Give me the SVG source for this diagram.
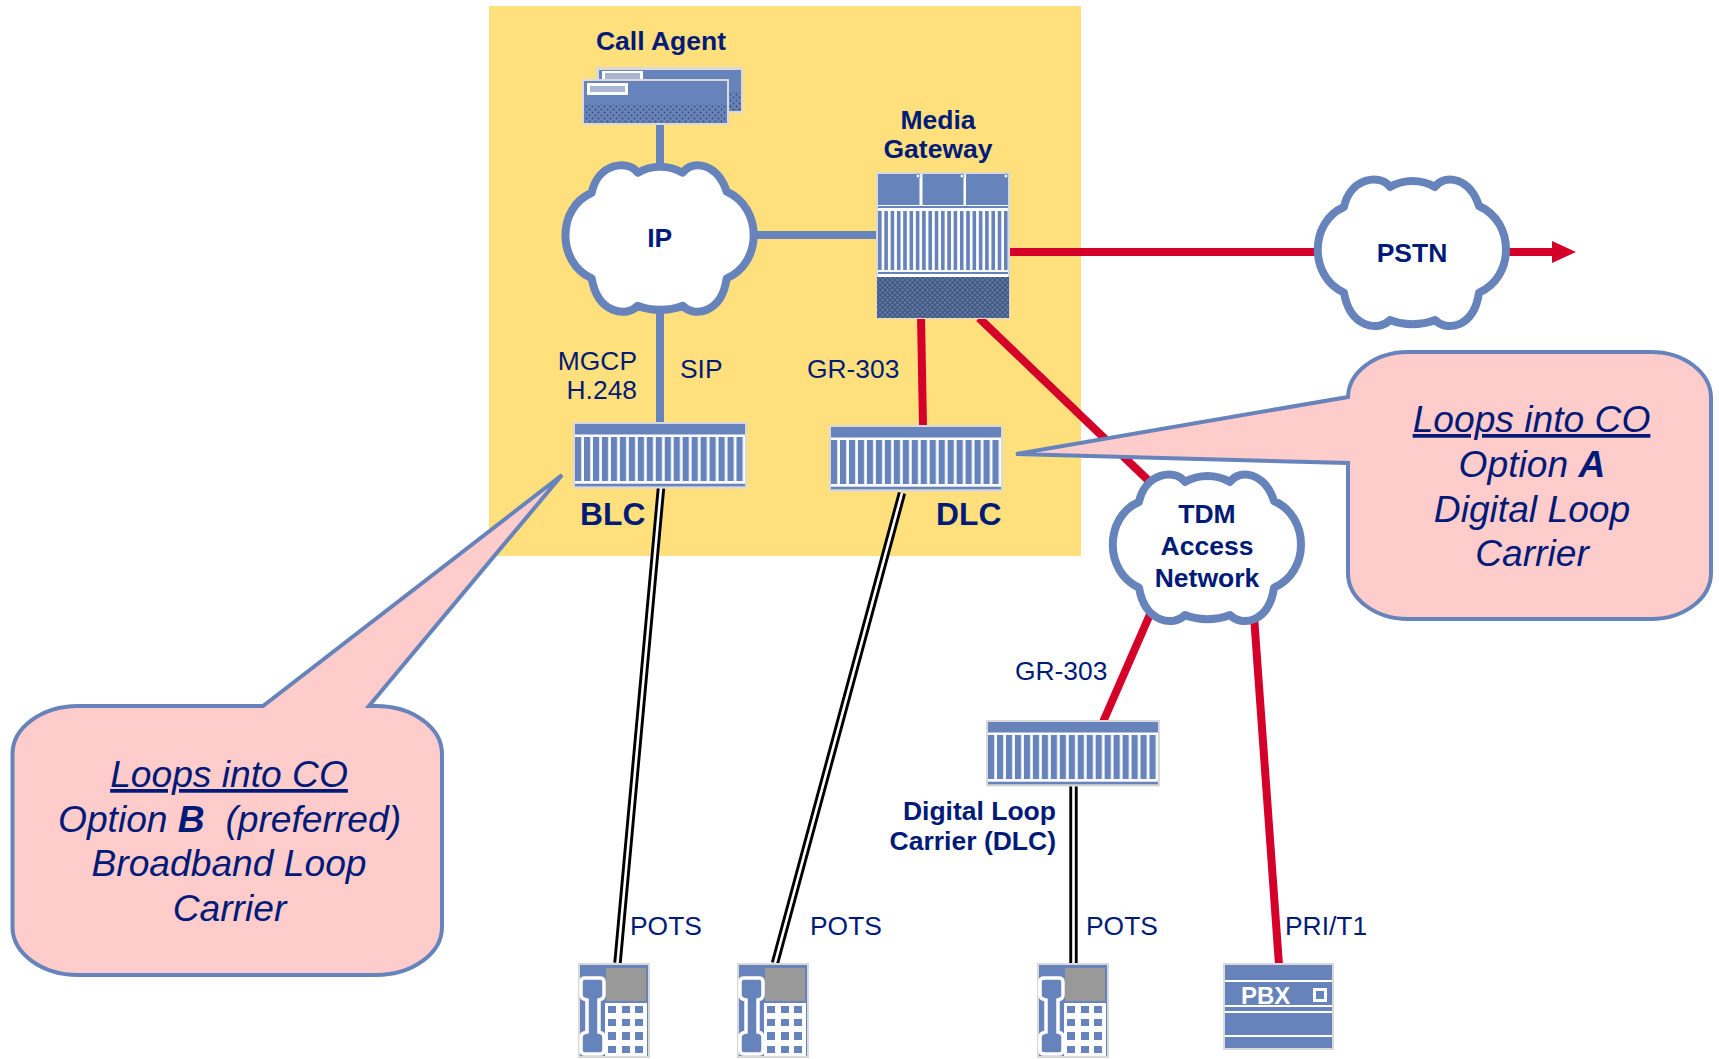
<svg xmlns="http://www.w3.org/2000/svg" width="1719" height="1059" viewBox="0 0 1719 1059">
<style>
text{font-family:"Liberation Sans",Arial,sans-serif;fill:#001a78}
.b{font-weight:bold;font-size:26.5px;text-anchor:middle}
.n{font-size:26.4px}
.big{font-weight:bold;font-size:31.8px}
.c{font-style:italic;font-size:37.2px;text-anchor:middle}
.blue{fill:none;stroke:#6783bb;stroke-width:8}
.red{fill:none;stroke:#d4002a;stroke-width:8}
.outer{stroke:#000;stroke-width:8.4;fill:none}
.inner{stroke:#fff;stroke-width:2.6;fill:none}
.callout{fill:#ffcccc;stroke:#6783bb;stroke-width:4}
.cloud{fill:#fff;stroke:#6783bb;stroke-width:8;stroke-linejoin:round}
.edge{fill:#d9d9d9}
.bl{fill:#6783bb}
.wh{fill:#fff}
</style>
<defs>
<pattern id="vbar" width="8.97" height="10" patternUnits="userSpaceOnUse" patternTransform="translate(2 0)"><rect width="6.5" height="10" fill="#6783bb"/><rect x="6.5" width="2.47" height="10" fill="#fff"/></pattern>
<pattern id="vbar2" width="6.3" height="10" patternUnits="userSpaceOnUse" patternTransform="translate(878 0)"><rect width="3.8" height="10" fill="#6783bb"/><rect x="3.8" width="2.5" height="10" fill="#fff"/></pattern>
<pattern id="dots" width="6" height="6" patternUnits="userSpaceOnUse"><rect width="6" height="6" fill="#6783bb"/><circle cx="1.5" cy="1.5" r="1" fill="#3f5170"/><circle cx="4.5" cy="4.5" r="1" fill="#3f5170"/></pattern>
<pattern id="hatch" width="5" height="5" patternUnits="userSpaceOnUse"><rect width="5" height="5" fill="#5f7cb4"/><path d="M0 0L5 5M5 0L0 5" stroke="#465878" stroke-width="1.3"/></pattern>
<g id="cloudShape"><path class="cloud" d="M-68,-45C-62,-74 -32,-79 -22,-65C-8,-73 9,-73 23,-65C33,-79 58,-74 67,-46C103,-30 103,25 67,40.600C62,76 34,80 23,68C9,73.500 -8,73.500 -22,68C-33,80 -62,76 -68,40.600C-103,25 -103,-30 -68,-45Z"/></g>
<g id="rack"><rect class="edge" width="174" height="66.500"/><rect class="wh" x="2" y="2" width="170" height="62"/><rect class="bl" x="2" y="2" width="170" height="10.500"/><rect x="2" y="15" width="170" height="44" fill="url(#vbar)"/><rect class="bl" x="2" y="61.700" width="170" height="2.600"/></g>
<g id="phone"><rect class="edge" width="72" height="95"/><rect class="bl" x="2" y="2" width="68" height="91"/><rect x="28" y="5" width="40" height="33" fill="#999"/><rect class="wh" x="27" y="40" width="42" height="53"/><g class="bl"><rect x="30" y="43" width="8" height="7"/><rect x="44" y="43" width="8" height="7"/><rect x="57" y="43" width="8" height="7"/><rect x="30" y="56" width="8" height="7"/><rect x="44" y="56" width="8" height="7"/><rect x="57" y="56" width="8" height="7"/><rect x="30" y="69" width="8" height="8"/><rect x="44" y="69" width="8" height="8"/><rect x="57" y="69" width="8" height="8"/><rect x="30" y="83" width="8" height="7"/><rect x="44" y="83" width="8" height="7"/><rect x="57" y="83" width="8" height="7"/></g><path class="bl" stroke="#fff" stroke-width="3.500" d="M7,15H22Q26,15 26,19V32Q26,36 21,37V69Q26,70 26,74V87Q26,91 22,91H7Q3,91 3,87V74Q3,70 9,69V37Q3,36 3,32V19Q3,15 7,15Z"/></g>
</defs>
<rect x="489" y="6" width="592" height="550" fill="#ffe07d"/>
<g id="connectors">
<path class="blue" d="M660,122V170M660,310V424M750,235H878"/>
<path class="red" d="M1008,252H1320M1505,252H1555M921,316L923,426M979,318L1150,482M1151,612L1103,722M1254,616L1279,965"/>
<path fill="#d4002a" d="M1552,241L1576,252L1552,263Z"/>
<path class="outer" d="M661,488L617.500,963M902,493L775,963M1073.500,786V963"/>
<path class="inner" d="M661,488L617.500,963M902,493L775,963M1073.500,786V963"/>
</g>
<g id="call-agent">
<text class="b" x="661" y="50">Call Agent</text>
<rect class="edge" x="596" y="67" width="147" height="46"/><rect class="bl" x="599" y="70" width="142" height="41"/><rect x="599" y="92" width="142" height="19" fill="url(#dots)"/><rect class="wh" x="602" y="71" width="41" height="10"/><rect x="605" y="73" width="35" height="6" fill="#aab5cf"/>
<rect class="edge" x="582" y="79" width="147" height="46"/><rect class="bl" x="584" y="81" width="143" height="42"/><rect x="584" y="104" width="143" height="19" fill="url(#dots)"/><rect class="wh" x="587" y="83" width="41" height="12"/><rect x="590" y="86" width="35" height="6" fill="#aab5cf"/>
</g>
<g id="ip"><use href="#cloudShape" x="659.700" y="237.700"/><text class="b" x="659.700" y="247">IP</text></g>
<g id="media-gateway">
<text class="b" x="938" y="129">Media</text><text class="b" x="938" y="158">Gateway</text>
<rect class="edge" x="876" y="172" width="134" height="147"/><rect class="wh" x="878" y="174" width="130" height="143"/>
<rect class="bl" x="878" y="174" width="41.500" height="31"/><rect class="bl" x="922.500" y="174" width="41" height="31"/><rect class="bl" x="966" y="174" width="42" height="31"/>
<circle cx="918" cy="176" r="2" fill="#fff" stroke="#6783bb"/><circle cx="962" cy="176" r="2" fill="#fff" stroke="#6783bb"/><circle cx="1006" cy="176" r="2" fill="#fff" stroke="#6783bb"/>
<rect class="bl" x="878" y="206" width="130" height="2"/><rect x="878" y="211" width="130" height="59" fill="url(#vbar2)"/><rect class="bl" x="878" y="272" width="130" height="2"/>
<rect x="877" y="277" width="132" height="41" fill="url(#hatch)"/>
</g>
<g id="pstn"><use href="#cloudShape" x="1412" y="252"/><text class="b" x="1412" y="262">PSTN</text></g>
<g id="blc"><use href="#rack" x="573" y="422"/><text class="big" x="580" y="525">BLC</text></g>
<g id="dlc"><use href="#rack" x="829" y="425"/><text class="big" x="936" y="525">DLC</text></g>
<g id="tdm"><use href="#cloudShape" x="1207" y="547"/><text class="b" x="1207" y="523">TDM</text><text class="b" x="1207" y="555">Access</text><text class="b" x="1207" y="587">Network</text></g>
<g id="dlc2"><use href="#rack" x="986" y="720"/><text class="b" x="1056" y="820" style="text-anchor:end">Digital Loop</text><text class="b" x="1056" y="850" style="text-anchor:end">Carrier (DLC)</text></g>
<g id="phone1"><use href="#phone" x="578" y="963"/></g>
<g id="phone2"><use href="#phone" x="737" y="963"/></g>
<g id="phone3"><use href="#phone" x="1037" y="963"/></g>
<g id="pbx"><rect class="edge" x="1223" y="963" width="111" height="87"/><rect class="bl" x="1225" y="965" width="107" height="83"/><rect class="wh" x="1225" y="980" width="107" height="2"/><rect class="wh" x="1225" y="1005" width="107" height="2"/><rect class="wh" x="1225" y="1011" width="107" height="2"/><rect class="wh" x="1225" y="1035" width="107" height="2"/><text x="1241" y="1004" style="fill:#fff;font-weight:bold;font-size:24px">PBX</text><rect x="1314.500" y="989.500" width="11" height="11" fill="none" stroke="#fff" stroke-width="3"/></g>
<g id="labels">
<text class="n" x="637" y="370" text-anchor="end">MGCP</text><text class="n" x="637" y="399" text-anchor="end">H.248</text>
<text class="n" x="680" y="378">SIP</text><text class="n" x="807" y="378">GR-303</text><text class="n" x="1015" y="680">GR-303</text>
<text class="n" x="630" y="935">POTS</text><text class="n" x="810" y="935">POTS</text><text class="n" x="1086" y="935">POTS</text><text class="n" x="1285" y="935">PRI/T1</text>
</g>
<g id="callout-a">
<path class="callout" d="M1348,397A60,46 0 0 1 1408,352H1651A60,46 0 0 1 1711,398V573A60,46 0 0 1 1651,619H1408A60,46 0 0 1 1348,573V463L1016,454Z"/>
<text class="c" x="1531.500" y="432"><tspan text-decoration="underline">Loops into CO</tspan></text>
<text class="c" x="1532" y="477">Option <tspan font-weight="bold">A</tspan></text>
<text class="c" x="1532" y="522">Digital Loop</text><text class="c" x="1532" y="566">Carrier</text>
</g>
<g id="callout-b">
<path class="callout" d="M78,706H263L562,475L369,706H376A66,48 0 0 1 442,754V927A66,48 0 0 1 376,975H78A66,48 0 0 1 12.500,927V754A66,48 0 0 1 78,706Z"/>
<text class="c" x="229" y="787"><tspan text-decoration="underline">Loops into CO</tspan></text>
<text class="c" x="229.500" y="832" xml:space="preserve">Option <tspan font-weight="bold">B</tspan>  (preferred)</text>
<text class="c" x="229" y="876">Broadband Loop</text><text class="c" x="229.500" y="921">Carrier</text>
</g>
</svg>
